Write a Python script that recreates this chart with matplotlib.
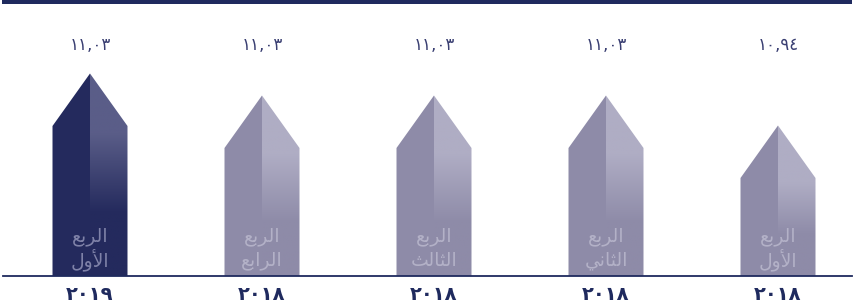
import matplotlib
matplotlib.use("Agg")
import matplotlib.pyplot as plt
import numpy as np
from matplotlib.patches import Polygon, Rectangle
from matplotlib.colors import LinearSegmentedColormap

# data; Arabic written in visual order with presentation forms
value_labels = ["\u0661\u0661,\u0660\u0663", "\u0661\u0661,\u0660\u0663", "\u0661\u0661,\u0660\u0663",
                "\u0661\u0661,\u0660\u0663", "\u0661\u0660,\u0669\u0664"]
year_labels = ["\u0662\u0660\u0661\u0669", "\u0662\u0660\u0661\u0668", "\u0662\u0660\u0661\u0668",
               "\u0662\u0660\u0661\u0668", "\u0662\u0660\u0661\u0668"]
quarter_word = "\uFECA\uFE91\uFEAE\uFEDF\uFE8D"  # الربع
quarter_names = ["\uFEDD\uFEED\uFEF7\uFE8D",               # الأول
                 "\uFECA\uFE91\uFE8D\uFEAE\uFEDF\uFE8D",   # الرابع
                 "\uFE9A\uFEDF\uFE8E\uFE9C\uFEDF\uFE8D",   # الثالث
                 "\uFEF2\uFEE7\uFE8E\uFE9C\uFEDF\uFE8D",   # الثاني
                 "\uFEDD\uFEED\uFEF7\uFE8D"]               # الأول
bar_heights = [15.0, 12.8, 12.8, 12.8, 9.8]   # shoulder height
roof = 5.25
highlight = [True, False, False, False, False]

NAVY = "#1f2a5e"
W, H = 854, 305
fig = plt.figure(figsize=(W / 100, H / 100), dpi=100)
base_px = 29
ax = fig.add_axes([0, base_px / H, 1, 1 - base_px / H])
ax.axis("off")

half = 0.218
for i, h in enumerate(bar_heights):
    if highlight[i]:
        dark, light, txt = "#242a5d", "#5a5d88", "#7f82a8"
    else:
        dark, light, txt = "#8e8ba8", "#afadc4", "#b3b1c7"
    left = Polygon([(i - half, 0), (i - half, h), (i, h + roof), (i, 0)],
                   closed=True, facecolor=dark, edgecolor="none")
    ax.add_patch(left)
    right = Polygon([(i, 0), (i, h + roof), (i + half, h), (i + half, 0)],
                    closed=True, facecolor="none", edgecolor="none")
    ax.add_patch(right)
    # gradient on the right half: dark low down, light toward the roof
    y0 = h * 0.42
    y1 = h * 0.95
    vals = np.clip((np.linspace(0, h + roof, 256) - y0) / (y1 - y0), 0, 1).reshape(-1, 1)
    im = ax.imshow(vals, cmap=LinearSegmentedColormap.from_list("g", [dark, light]),
                   extent=(i, i + half, 0, h + roof), origin="lower", aspect="auto",
                   vmin=0, vmax=1, zorder=1)
    im.set_clip_path(right)

    ax.text(i, 4.0, quarter_word, ha="center", va="center", color=txt,
            fontsize=13.5, family="DejaVu Sans", zorder=3)
    ax.text(i, 1.6, quarter_names[i], ha="center", va="center", color=txt,
            fontsize=13.5, family="DejaVu Sans", zorder=3)
    ax.text(i, (H - base_px - 45) / 10, value_labels[i], ha="center", va="center",
            color="#3a3f72", fontsize=12, family="DejaVu Sans")
    ax.text(i, -1.9, year_labels[i], ha="center", va="center", color=NAVY,
            fontsize=14, fontweight="bold", family="DejaVu Sans", clip_on=False)

ax.set_xlim(-90 / 172, 4 + 76 / 172)
ax.set_ylim(0, (H - base_px) / 10)
ax.plot([ax.get_xlim()[0] + 3 / 172, ax.get_xlim()[0] + 852 / 172], [0, 0],
        color=NAVY, lw=1.3, zorder=4, clip_on=False)

fig.add_artist(Rectangle((2 / W, 1 - 4 / H), 850 / W, 4 / H, transform=fig.transFigure,
                         facecolor=NAVY, edgecolor="none"))

fig.savefig("out.png", dpi=100)
